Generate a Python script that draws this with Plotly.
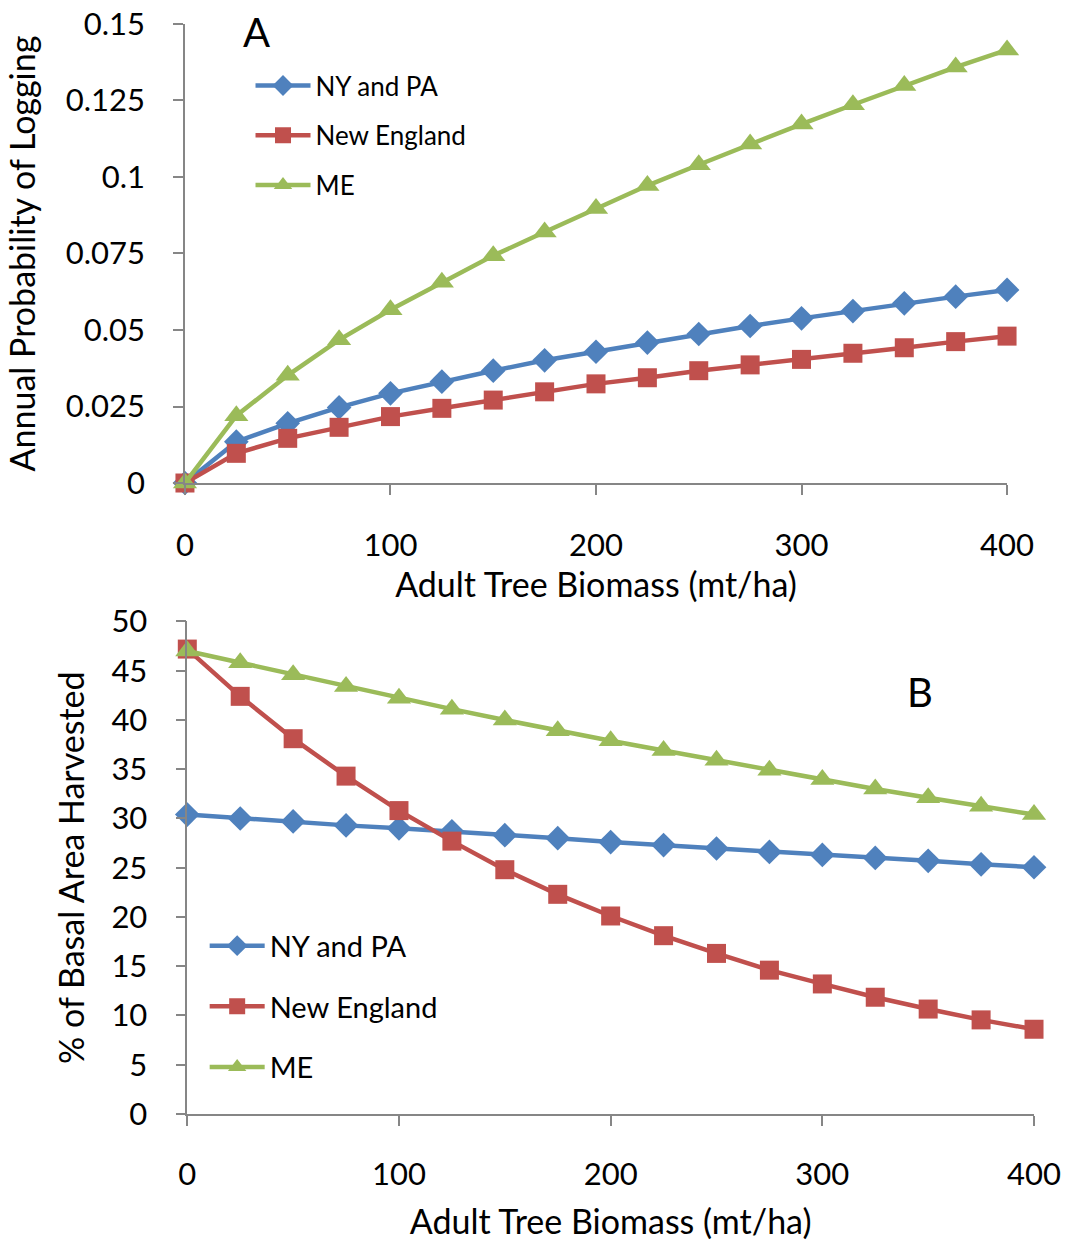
import plotly.graph_objects as go

biomass = [0, 25, 50, 75, 100, 125, 150, 175, 200, 225, 250, 275, 300, 325, 350, 375, 400]

# Panel A: annual probability of logging
prob_nypa = [0, 0.0135, 0.0195, 0.0247, 0.0293, 0.0331, 0.0367, 0.0401, 0.0429, 0.0459,
             0.0487, 0.0513, 0.0538, 0.0562, 0.0587, 0.0609, 0.0631]
prob_ne = [0, 0.0097, 0.0146, 0.0182, 0.0217, 0.0244, 0.0271, 0.0298, 0.0324, 0.0344,
           0.0367, 0.0386, 0.0404, 0.0424, 0.0442, 0.0462, 0.0480]
prob_me = [0, 0.0220, 0.0352, 0.0468, 0.0566, 0.0656, 0.0743, 0.0820, 0.0897, 0.0972,
           0.1040, 0.1108, 0.1173, 0.1236, 0.1299, 0.1359, 0.1415]

# Panel B: % of basal area harvested
ba_nypa = [30.4, 30.0, 29.7, 29.3, 29.0, 28.7, 28.3, 28.0, 27.6, 27.3,
           26.95, 26.6, 26.3, 26.0, 25.7, 25.35, 25.05]
ba_ne = [47.2, 42.4, 38.1, 34.3, 30.8, 27.7, 24.8, 22.3, 20.1, 18.1,
         16.3, 14.6, 13.2, 11.85, 10.65, 9.55, 8.6]
ba_me = [47.0, 45.8, 44.6, 43.4, 42.2, 41.1, 40.0, 38.9, 37.9, 36.9,
         35.9, 34.9, 33.95, 33.0, 32.1, 31.25, 30.4]

series_names = ["NY and PA", "New England", "ME"]
colors = ["#4F81BD", "#C0504D", "#9BBB59"]
symbols = ["diamond", "square", "triangle-up"]
sizes = [19, 19, 21]

yA_ticks = [0, 0.025, 0.05, 0.075, 0.1, 0.125, 0.15]
yA_text = ["0", "0.025", "0.05", "0.075", "0.1", "0.125", "0.15"]
yB_ticks = [0, 5, 10, 15, 20, 25, 30, 35, 40, 45, 50]
x_ticks = [0, 100, 200, 300, 400]

FONT = "Lato"
AX = "#868686"

fig = go.Figure()

for i, ys in enumerate([prob_nypa, prob_ne, prob_me]):
    fig.add_trace(go.Scatter(
        x=biomass, y=ys, mode="lines+markers", name=series_names[i],
        line=dict(color=colors[i], width=4.5),
        marker=dict(symbol=symbols[i], size=sizes[i], color=colors[i]),
        xaxis="x", yaxis="y", legend="legend", legendgroup="a%d" % i,
        cliponaxis=False,
    ))

for i, ys in enumerate([ba_nypa, ba_ne, ba_me]):
    fig.add_trace(go.Scatter(
        x=biomass, y=ys, mode="lines+markers", name=series_names[i],
        line=dict(color=colors[i], width=4.5),
        marker=dict(symbol=symbols[i], size=sizes[i], color=colors[i]),
        xaxis="x2", yaxis="y2", legend="legend2", legendgroup="b%d" % i,
        cliponaxis=False,
    ))

axis_common = dict(
    showgrid=False, zeroline=False, showline=True, linecolor=AX, linewidth=1.5,
    ticks="outside", ticklen=10, tickcolor=AX, tickwidth=1.5,
    tickfont=dict(family=FONT, size=31, color="#000000"),
    automargin=False,
)

fig.update_layout(
    width=1066, height=1242,
    margin=dict(l=0, r=0, t=0, b=0),
    paper_bgcolor="white", plot_bgcolor="white",
    font=dict(family=FONT, color="#000000"),
    xaxis=dict(domain=[0.1735, 0.9447], range=[0, 400], tickvals=x_ticks,
               anchor="y", ticklabelstandoff=24,
               title=dict(text="Adult Tree Biomass (mt/ha)", standoff=0,
                          font=dict(family=FONT, size=34)),
               **axis_common),
    yaxis=dict(domain=[0.6111, 0.9807], range=[0, 0.15], tickvals=yA_ticks,
               ticktext=yA_text, anchor="x", ticklabelstandoff=22,
               title=dict(text="Annual Probability of Logging", standoff=20,
                          font=dict(family=FONT, size=34)),
               **axis_common),
    xaxis2=dict(domain=[0.1757, 0.970], range=[0, 400], tickvals=x_ticks,
                anchor="y2", ticklabelstandoff=22,
                title=dict(text="Adult Tree Biomass (mt/ha)", standoff=19,
                           font=dict(family=FONT, size=34)),
                **axis_common),
    yaxis2=dict(domain=[0.1031, 0.4996], range=[0, 50], tickvals=yB_ticks,
                anchor="x2", ticklabelstandoff=22,
                title=dict(text="% of Basal Area Harvested", standoff=16,
                           font=dict(family=FONT, size=34)),
                **axis_common),
    legend=dict(x=0.235, y=0.950, xanchor="left", yanchor="top",
                bgcolor="rgba(0,0,0,0)", itemwidth=55, traceorder="grouped",
                tracegroupgap=13, font=dict(family=FONT, size=26)),
    legend2=dict(x=0.192, y=0.259, xanchor="left", yanchor="top",
                 bgcolor="rgba(0,0,0,0)", itemwidth=55, traceorder="grouped",
                 tracegroupgap=20, font=dict(family=FONT, size=29)),
    annotations=[
        dict(text="A", xref="paper", yref="paper", x=256 / 1066, y=1 - 32 / 1242,
             xanchor="center", yanchor="middle", showarrow=False,
             font=dict(family=FONT, size=40)),
        dict(text="B", xref="paper", yref="paper", x=920 / 1066, y=1 - 692 / 1242,
             xanchor="center", yanchor="middle", showarrow=False,
             font=dict(family=FONT, size=40)),
    ],
)

fig.write_html("out.html")
